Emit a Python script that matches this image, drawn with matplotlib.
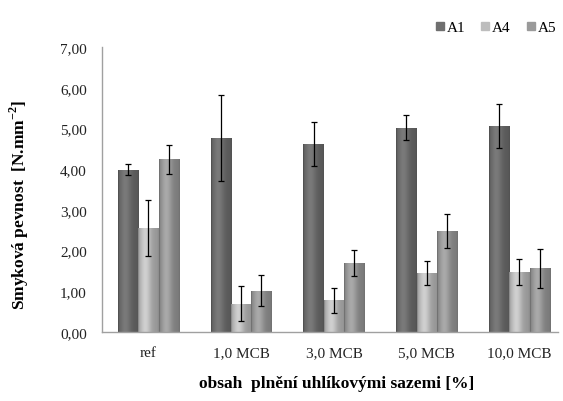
import numpy as np
import matplotlib
matplotlib.use("Agg")
import matplotlib.pyplot as plt
from matplotlib.lines import Line2D

categories = ["ref", "1,0 MCB", "3,0 MCB", "5,0 MCB", "10,0 MCB"]
series = ["A1", "A4", "A5"]
a1 = [3.99, 4.77, 4.61, 5.02, 5.06]
a1_err = [0.14, 1.06, 0.54, 0.31, 0.54]
a4 = [2.55, 0.70, 0.78, 1.45, 1.47]
a4_err = [0.68, 0.44, 0.31, 0.29, 0.32]
a5 = [4.24, 1.01, 1.69, 2.49, 1.56]
a5_err = [0.36, 0.38, 0.32, 0.42, 0.48]
yticks = [0, 1, 2, 3, 4, 5, 6, 7]
ytick_labels = ["0,00", "1,00", "2,00", "3,00", "4,00", "5,00", "6,00", "7,00"]

base_colors = ["#6f6f6f", "#bdbdbd", "#9a9a9a"]

plt.rcParams['font.family'] = ['Liberation Serif', 'DejaVu Serif']
plt.rcParams['mathtext.fontset'] = 'custom'
plt.rcParams['mathtext.rm'] = 'Liberation Serif'
plt.rcParams['mathtext.bf'] = 'Liberation Serif:bold'

fig = plt.figure(figsize=(5.63, 4.02), dpi=100)
ax = fig.add_axes([102/563, 1-333/402, (558-102)/563, (333-48)/402])

x = np.arange(len(categories))
bw = 0.219
vals = [a1, a4, a5]
errs = [a1_err, a4_err, a5_err]

def shade(hexc, f):
    c = np.array(matplotlib.colors.to_rgb(hexc))
    return np.clip(c * f, 0, 1)

prof_x = np.linspace(0, 1, 64)
prof = 0.80 + 0.30 * np.exp(-((prof_x - 0.35) / 0.28) ** 2)
prof[:3] = 0.72
prof[-4:] = 0.75

for i, (v, e, c) in enumerate(zip(vals, errs, base_colors)):
    bars = ax.bar(x + (i - 1) * bw, v, width=bw, color=c, edgecolor='none', zorder=2)
    for b in bars:
        x0, y0 = b.get_x(), b.get_y()
        w, h = b.get_width(), b.get_height()
        img = np.array([[shade(c, f) for f in prof]])
        im = ax.imshow(img, extent=[x0, x0 + w, y0, y0 + h], aspect='auto',
                       interpolation='bilinear', zorder=2.5)
        im.set_clip_path(b)
    ax.errorbar(x + (i - 1) * bw, v, yerr=e, fmt='none', ecolor='black',
                elinewidth=0.9, capsize=2.5, capthick=0.9, zorder=3)

ax.set_xlim(-0.5, 4.415)
ax.set_ylim(0, 7)
ax.set_yticks(yticks)
ax.set_yticklabels(ytick_labels)
ax.set_xticks(x)
ax.set_xticklabels(categories)
ax.tick_params(axis='both', length=0, labelsize=11, colors='#222222')
ax.tick_params(axis='y', pad=11)
ax.tick_params(axis='x', pad=10)
for s in ['top', 'right']:
    ax.spines[s].set_visible(False)
for s in ['left', 'bottom']:
    ax.spines[s].set_color('#a0a0a0')
    ax.spines[s].set_linewidth(1.0)

fig.text(19/563, 1 - 205/402, r"Smyková pevnost  [N.mm$^{\mathbf{-2}}$]",
         rotation=90, ha='center', va='center', fontsize=12.5, fontweight='bold')
fig.text(337/563, 1 - 384/402, "obsah  plnění uhlíkovými sazemi [%]",
         ha='center', va='center', fontsize=12.5, fontweight='bold')

handles = [Line2D([0], [0], marker='s', linestyle='none', markersize=5.5,
                  markerfacecolor=c, markeredgecolor=c) for c in base_colors]
fig.legend(handles, series, loc='center right', bbox_to_anchor=(1.012, 1 - 28/402),
           ncol=3, frameon=False, fontsize=11, handletextpad=0.05,
           columnspacing=0.9, handlelength=0.8)

fig.savefig("out.png", dpi=100)
